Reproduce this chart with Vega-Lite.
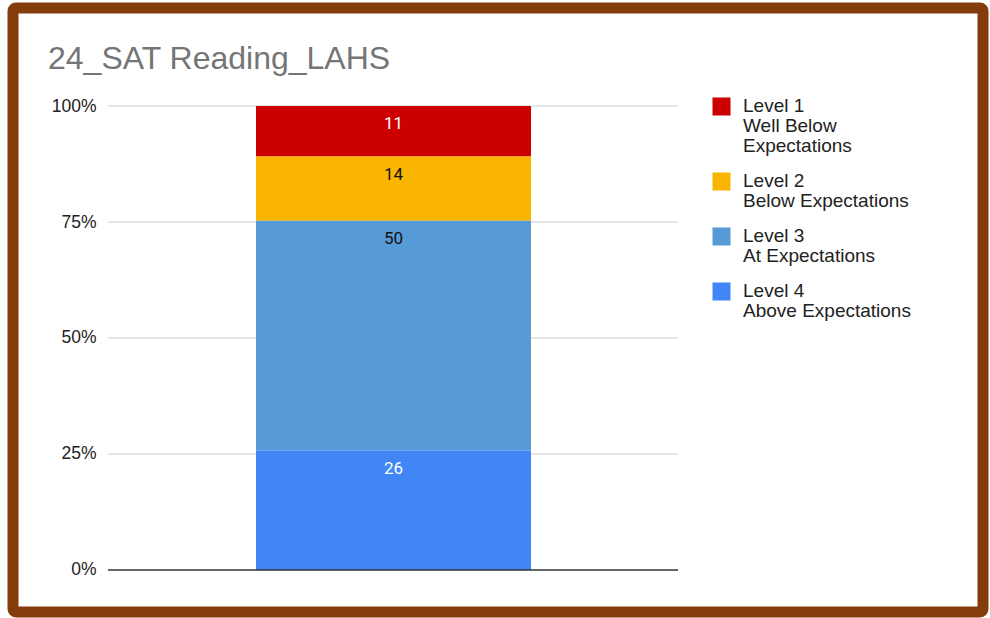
{
  "$schema": "https://vega.github.io/schema/vega-lite/v6.json",
  "autosize": {"type": "none"},
  "width": 970,
  "height": 604,
  "padding": {"left": 13, "top": 8, "right": 7, "bottom": 6},
  "background": "white",
  "config": {
    "view": {"fill": "white", "stroke": "#843c0c", "strokeWidth": 11, "cornerRadius": 3},
    "font": "Liberation Sans"
  },
  "title": {
    "text": "24_SAT Reading_LAHS",
    "anchor": "start",
    "frame": "group",
    "orient": "top",
    "offset": -93,
    "dx": 35,
    "baseline": "alphabetic",
    "fontSize": 32,
    "fontWeight": "normal",
    "font": "Liberation Sans",
    "color": "#757575"
  },
  "datasets": {
    "levels": [
      {"level": "Level 1\nWell Below\nExpectations", "count": 11},
      {"level": "Level 2\nBelow Expectations", "count": 14},
      {"level": "Level 3\nAt Expectations", "count": 50},
      {"level": "Level 4\nAbove Expectations", "count": 26}
    ],
    "ticks": [{"tick": 0.25}, {"tick": 0.5}, {"tick": 0.75}, {"tick": 1}]
  },
  "layer": [
    {
      "data": {"name": "ticks"},
      "mark": {"type": "rule", "color": "#cccccc", "strokeWidth": 1},
      "encoding": {
        "y": {
          "field": "tick", "type": "quantitative",
          "scale": {"domain": [-0.09052, 1.21121], "nice": false, "zero": false},
          "axis": {
            "values": [0, 0.25, 0.5, 0.75, 1],
            "format": ".0%",
            "title": null,
            "grid": false,
            "domain": false,
            "ticks": false,
            "tickSize": 0,
            "labelPadding": 2,
            "offset": -85,
            "labelFontSize": 17.5,
            "labelFont": "Liberation Sans",
            "labelColor": "#222222"
          }
        },
        "x": {"datum": -1.0382, "type": "quantitative", "axis": null, "scale": {"domain": [-1.3836, 2.1436], "nice": false, "zero": false}},
        "x2": {"datum": 1.0345}
      }
    },
    {
      "data": {"name": "levels"},
      "transform": [
        {"stack": "count", "groupby": [], "sort": [{"field": "level", "order": "descending"}], "as": ["y0", "y1"], "offset": "normalize"}
      ],
      "mark": {"type": "bar"},
      "encoding": {
        "x": {"datum": -0.5, "type": "quantitative", "axis": null},
        "x2": {"datum": 0.5},
        "y": {"field": "y0", "type": "quantitative"},
        "y2": {"field": "y1"},
        "color": {
          "field": "level", "type": "nominal",
          "scale": {
            "domain": ["Level 1\nWell Below\nExpectations", "Level 2\nBelow Expectations", "Level 3\nAt Expectations", "Level 4\nAbove Expectations"],
            "range": ["#cc0000", "#f9b500", "#579bd6", "#4285f4"]
          },
          "legend": {
            "orient": "none",
            "legendX": 699,
            "legendY": 89,
            "title": null,
            "padding": 0,
            "symbolType": "square",
            "symbolSize": 324,
            "symbolStrokeWidth": 0,
            "symbolOpacity": 1,
            "labelFontSize": 19,
            "labelFont": "Liberation Sans",
            "labelColor": "#222222",
            "labelOffset": 12,
            "labelBaseline": "top",
            "labelLimit": 300,
            "rowPadding": 15,
            "labelExpr": "split(datum.label, '\\n')",
            "encode": {
              "labels": {"update": {"dy": {"value": -10}, "lineHeight": {"value": 20}}},
              "symbols": {"update": {"fill": {"signal": "indexof(datum.value, 'Level 3') == 0 ? '#3d85c6' : scale('color', datum.value)"}}}
            }
          }
        }
      }
    },
    {
      "data": {"name": "levels"},
      "transform": [
        {"stack": "count", "groupby": [], "sort": [{"field": "level", "order": "descending"}], "as": ["y0", "y1"], "offset": "normalize"}
      ],
      "mark": {"type": "text", "baseline": "top", "dy": 10, "fontSize": 17, "font": "Roboto"},
      "encoding": {
        "x": {"datum": 0, "type": "quantitative", "axis": null},
        "y": {"field": "y1", "type": "quantitative"},
        "text": {"field": "count", "type": "quantitative"},
        "color": {
          "condition": {"test": "indexof(datum.level, 'Level 2') == 0 || indexof(datum.level, 'Level 3') == 0", "value": "#111111"},
          "value": "#ffffff"
        }
      }
    },
    {
      "data": {"values": [{}]},
      "mark": {"type": "rule", "color": "#333333", "strokeWidth": 1.5},
      "encoding": {
        "y": {"datum": 0, "type": "quantitative"},
        "x": {"datum": -1.0382, "type": "quantitative", "axis": null},
        "x2": {"datum": 1.0345}
      }
    }
  ]
}
